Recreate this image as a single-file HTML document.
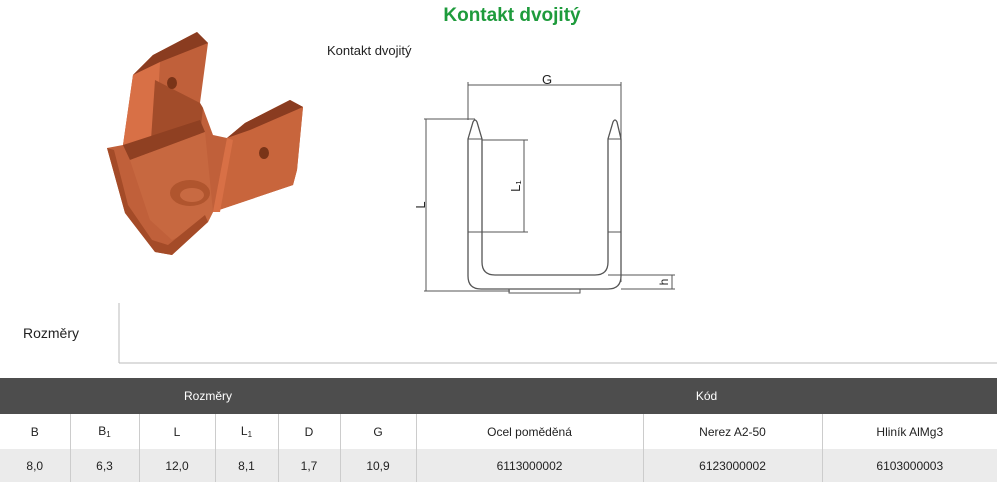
<!DOCTYPE html>
<html><head><meta charset="utf-8"><style>
body{margin:0;width:997px;height:482px;background:#fff;font-family:"Liberation Sans",sans-serif;position:relative;overflow:hidden;color:#222}
.t{position:absolute;white-space:nowrap}
table{position:absolute;left:0;top:378px;width:997px;border-collapse:collapse;font-size:12px;text-align:center;table-layout:fixed}
td{border-left:1px solid #ccc;padding:0}
tr.h td{background:#4d4d4d;color:#fff;height:36px;border:none}
tr.a td{height:35px;background:#fff}
tr.b td{height:33px;background:#ebebeb}
tr td:first-child{border-left:none}
sub{font-size:8px;vertical-align:-2px}
</style></head><body>
<div class="t" style="left:0;width:1024px;top:5px;text-align:center;color:#1e9b3c;font-weight:bold;font-size:19px">Kontakt dvojitý</div>
<div class="t" style="left:327px;top:43px;font-size:13px">Kontakt dvojitý</div>
<svg style="position:absolute;left:0;top:0" width="997" height="370">
<g stroke="none">
<polygon points="107,148 123,145 133,75 153,55 197,32 208,43 200,103 203,108 213,135 227,138 245,123 290,100 303,107 297,170 293,185 213,212 208,222 172,255 155,252 125,213" fill="#c0603a"/>
<polygon points="123,145 133,75 153,55 160,62 155,150" fill="#d87046"/>
<polygon points="133,75 153,55 197,32 208,43 160,62" fill="#8a3c20"/>
<polygon points="155,80 200,103 203,108 200,135 150,155" fill="#a24c2a"/>
<polygon points="123,145 200,120 205,132 130,160" fill="#8f4022"/>
<polygon points="130,160 205,132 213,212 208,222 172,240 150,220" fill="#c76840"/>
<polygon points="213,212 227,138 245,123 290,100 303,107 297,170 293,185" fill="#c8653c"/>
<polygon points="227,138 245,123 290,100 303,107 250,130" fill="#8a3c20"/>
<polygon points="213,212 227,138 233,140 220,212" fill="#d87046"/>
<polygon points="107,148 125,213 155,252 172,255 208,222 205,215 168,245 152,240 128,205 114,150" fill="#a44b28"/>
<ellipse cx="190" cy="193" rx="20" ry="13" fill="#b0552e"/>
<ellipse cx="192" cy="195" rx="12" ry="7" fill="#c86a42"/>
<ellipse cx="172" cy="83" rx="5" ry="6" fill="#7a3418"/>
<ellipse cx="264" cy="153" rx="5" ry="6" fill="#7a3418"/>
</g>
<g fill="none" stroke="#555" stroke-width="1">
<line x1="468" y1="85" x2="621" y2="85"/>
<line x1="468" y1="82" x2="468" y2="120"/>
<line x1="621" y1="82" x2="621" y2="282"/>
<line x1="426" y1="119" x2="426" y2="291"/>
<line x1="424" y1="119" x2="475" y2="119"/>
<line x1="424" y1="291" x2="510" y2="291"/>
<path d="M468,139 L473,122 Q475,118 477,122 L482,139 L482,262 Q482,275 495,275 L595,275 Q608,275 608,262 L608,139 L613,122 Q615,118 617,122 L621,139 L621,276 Q621,289 608,289 L481,289 Q468,289 468,276 Z" stroke-width="1.3"/>
<line x1="468" y1="139" x2="482" y2="139"/><line x1="608" y1="139" x2="621" y2="139"/>
<line x1="468" y1="232" x2="482" y2="232"/><line x1="608" y1="232" x2="621" y2="232"/>
<rect x="509" y="289" width="71" height="4"/>
<line x1="482" y1="140" x2="528" y2="140"/>
<line x1="482" y1="232" x2="528" y2="232"/>
<line x1="524" y1="140" x2="524" y2="232"/>
<line x1="608" y1="275" x2="675" y2="275"/>
<line x1="621" y1="289" x2="675" y2="289"/>
<line x1="672" y1="275" x2="672" y2="289"/>
<line x1="119" y1="303" x2="119" y2="363" stroke="#bbb"/>
<line x1="119" y1="363" x2="997" y2="363" stroke="#bbb"/>
</g>
<text x="547" y="84" font-size="13" text-anchor="middle" fill="#222" font-family="Liberation Sans">G</text>
<text x="425" y="205" font-size="13" fill="#222" font-family="Liberation Sans" transform="rotate(-90 425 205)" text-anchor="middle">L</text>
<text x="520" y="186" font-size="13" fill="#222" font-family="Liberation Sans" transform="rotate(-90 520 186)" text-anchor="middle">L₁</text>
<text x="668" y="282" font-size="12" fill="#222" font-family="Liberation Sans" transform="rotate(-90 668 282)" text-anchor="middle">h</text>
</svg>
<div class="t" style="left:23px;top:325px;font-size:14px">Rozměry</div>
<table>
<colgroup><col style="width:70px"><col style="width:69px"><col style="width:76px"><col style="width:63px"><col style="width:62px"><col style="width:76px"><col style="width:227px"><col style="width:179px"><col style="width:175px"></colgroup>
<tr class="h"><td colspan="6">Rozměry</td><td colspan="3">Kód</td></tr>
<tr class="a"><td>B</td><td>B<sub>1</sub></td><td>L</td><td>L<sub>1</sub></td><td>D</td><td>G</td><td>Ocel poměděná</td><td>Nerez A2-50</td><td>Hliník AlMg3</td></tr>
<tr class="b"><td>8,0</td><td>6,3</td><td>12,0</td><td>8,1</td><td>1,7</td><td>10,9</td><td>6113000002</td><td>6123000002</td><td>6103000003</td></tr>
</table>
</body></html>
